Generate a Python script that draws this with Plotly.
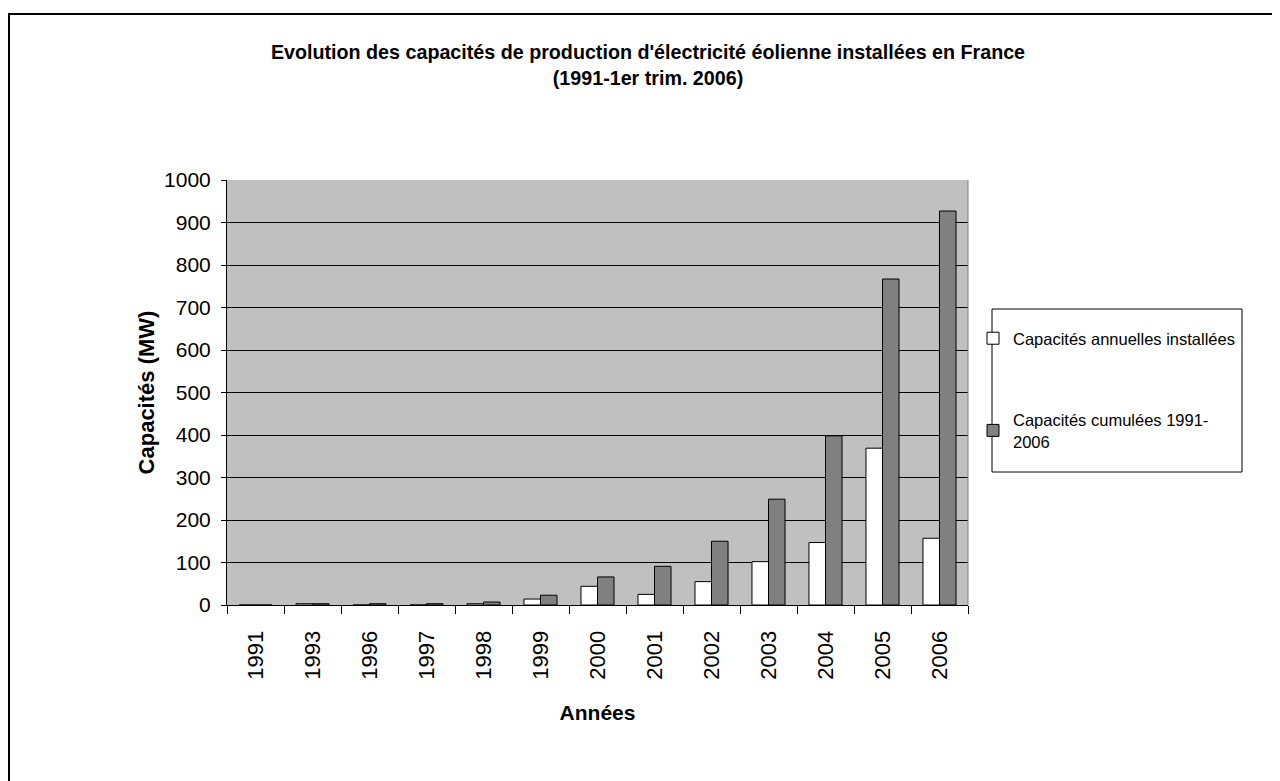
import plotly.graph_objects as go

years = ["1991", "1993", "1996", "1997", "1998", "1999", "2000", "2001", "2002", "2003", "2004", "2005", "2006"]
annual = [0, 3, 0, 0, 3, 14, 44, 25, 55, 102, 147, 369, 157]
cumul = [0, 3, 3, 3, 7, 23, 66, 91, 150, 249, 398, 767, 927]
y_ticks = [0, 100, 200, 300, 400, 500, 600, 700, 800, 900, 1000]

OFF = 8  # page body margin
W, H = 1280 - OFF, 781 - OFF
# plot area in screen pixels of the reference, converted to figure pixels
L, R, T, B = 227 - OFF, 968 - OFF, 180 - OFF, 605 - OFF
FONT = "Liberation Sans"

fig = go.Figure()
fig.add_trace(go.Bar(
    x=years, y=annual, name="Capacités annuelles installées",
    marker=dict(color="white", line=dict(color="black", width=1)),
    legendgroup="a",
))
fig.add_trace(go.Bar(
    x=years, y=cumul, name="Capacités cumulées 1991-<br>2006",
    marker=dict(color="#808080", line=dict(color="black", width=1)),
    legendgroup="b",
))

pw, ph = R - L, B - T
def px(xs):  # screen x -> paper
    return (xs - OFF - L) / pw
def py(ys):  # screen y -> paper
    return (B - (ys - OFF)) / ph

fig.update_layout(
    width=W, height=H,
    margin=dict(l=L, r=W - R, t=T, b=H - B, pad=0),
    paper_bgcolor="white",
    plot_bgcolor="#C0C0C0",
    barmode="group",
    bargap=0.42,
    bargroupgap=0,
    font=dict(family=FONT, color="black"),
    title=dict(
        text="Evolution des capacités de production d'électricité éolienne installées en France<br>(1991-1er trim. 2006)",
        x=(648 - OFF) / W, xanchor="center",
        y=1 - 51 / H, yanchor="top",
        font=dict(family=FONT, size=19.7, color="black", weight="bold"),
    ),
    showlegend=True,
    legend=dict(
        x=px(973), xanchor="left",
        y=py(321), yanchor="top",
        bgcolor="rgba(0,0,0,0)",
        borderwidth=0,
        font=dict(family=FONT, size=16.5, color="black"),
        traceorder="grouped",
        tracegroupgap=57,
        itemwidth=30,
    ),
    xaxis=dict(
        type="category",
        tickson="boundaries",
        ticks="outside", ticklen=8, tickcolor="black", tickwidth=1,
        tickangle=-90,
        tickfont=dict(family=FONT, size=22, color="black"),
        ticklabelstandoff=16,
        showline=True, linecolor="black", linewidth=1,
        showgrid=False,
        title=dict(text="<b>Années</b>", font=dict(family=FONT, size=21, color="black"), standoff=26),
    ),
    yaxis=dict(
        range=[0, 1000],
        tickvals=y_ticks,
        ticks="outside", ticklen=5, tickcolor="black", tickwidth=1,
        tickfont=dict(family=FONT, size=21, color="black"),
        ticklabelstandoff=6,
        showline=True, linecolor="black", linewidth=1,
        showgrid=True, gridcolor="black", gridwidth=1,
        zeroline=False,
        title=dict(text="<b>Capacités (MW)</b>", font=dict(family=FONT, size=22, color="black"), standoff=3),
    ),
    shapes=[
        dict(type="rect", xref="paper", yref="paper",
             x0=px(9), x1=px(1300), y0=py(800), y1=py(14),
             line=dict(color="black", width=2), fillcolor="rgba(0,0,0,0)", layer="below"),
        dict(type="rect", xref="paper", yref="paper",
             x0=px(992), x1=px(1242), y0=py(472), y1=py(309),
             line=dict(color="black", width=1), fillcolor="white", layer="below"),
        dict(type="line", xref="paper", yref="paper",
             x0=1, x1=1, y0=0, y1=1,
             line=dict(color="#808080", width=1)),
    ],
)

fig.write_html("out.html")
